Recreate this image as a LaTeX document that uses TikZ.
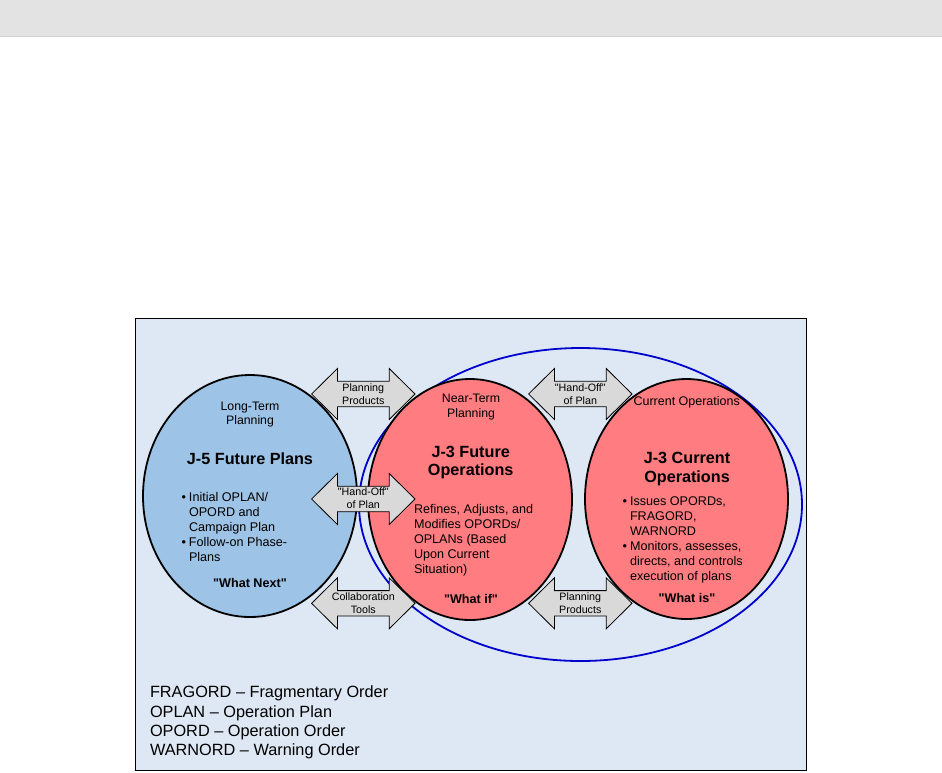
\documentclass[tikz,border=0pt]{standalone}
\usepackage{fontspec}
\newfontfamily\arialish{Liberation Sans}
\usetikzlibrary{shapes.geometric}
\definecolor{topbar}{HTML}{E3E3E3}
\definecolor{panelbg}{HTML}{DEE8F4}
\definecolor{jfiveblue}{HTML}{9DC3E6}
\definecolor{jthreered}{HTML}{FF7C80}
\definecolor{arrowgray}{HTML}{D9D9D9}
\definecolor{ringblue}{HTML}{0000CC}
\newcommand\fsz[2]{\arialish\fontsize{#1}{#2}\selectfont}
\newcommand\bul{\llap{•\hspace{3pt}}}
\begin{document}
\begin{tikzpicture}[x=1pt,y=-1pt,
  every node/.style={inner sep=0pt, outer sep=0pt},
  oval/.style={ellipse, draw=black, line width=1.8pt},
  arrowbox/.style={draw=black, line width=0.8pt, fill=arrowgray, line join=miter},
  arrowlabel/.style={font=\fsz{10.7}{13}, align=center, anchor=north},
  smalltitle/.style={font=\fsz{12.3}{14.3}, align=center, anchor=north},
  bigtitle/.style={font=\bfseries\fsz{16.2}{18.7}, align=center, anchor=north},
  bodytext/.style={font=\fsz{12.6}{15}, align=left, anchor=north west},
  motto/.style={font=\bfseries\fsz{12.6}{15}, anchor=north},
  legendtext/.style={font=\fsz{16.3}{19.3}, align=left, anchor=north west},
  dblarrow/.pic={\draw[arrowbox] (-51.7,0) -- (-25.9,-25.5) -- (-25.9,-12.7) -- (25.9,-12.7) -- (25.9,-25.5) -- (51.7,0) -- (25.9,25.5) -- (25.9,12.7) -- (-25.9,12.7) -- (-25.9,25.5) -- cycle;}
]
\useasboundingbox (0,0) rectangle (942,772);
\fill[white] (0,0) rectangle (942,772);
% top bar
\fill[topbar] (0,0) rectangle (942,36.5);
\draw[black!18, line width=0.5pt] (0,36.5) -- (942,36.5);
% panel
\draw[fill=panelbg, line width=0.8pt] (135.5,318) rectangle (806,770.5);
% big ring
\node[ellipse, draw=ringblue, line width=1.8pt, minimum width=443pt, minimum height=313pt] (ring) at (580.5,504.5) {};
% ellipses
\node[oval, fill=jfiveblue, minimum width=214pt, minimum height=242pt] (jfive) at (250,496) {};
\node[oval, fill=jthreered, minimum width=204pt, minimum height=241pt] (jfut) at (470,499.5) {};
\node[oval, fill=jthreered, minimum width=203pt, minimum height=240pt] (jcur) at (686.5,499) {};
% block arrows
\pic at (363.3,394) {dblarrow};
\pic at (580.3,394) {dblarrow};
\pic at (363.3,499) {dblarrow};
\pic at (363.3,603.3) {dblarrow};
\pic at (580.3,603.3) {dblarrow};
\node[arrowlabel] (lblpp) at (363.3,384) {Planning\\Products};
\node[arrowlabel] (lblhoa) at (580.3,384) {"Hand-Off"\\of Plan};
\node[arrowlabel] (lblhob) at (363.3,487.5) {"Hand-Off"\\of Plan};
\node[arrowlabel] (lblct) at (363.3,593) {Collaboration\\Tools};
\node[arrowlabel] (lblppb) at (580.3,593) {Planning\\Products};
% left ellipse text
\node[smalltitle] (ltp) at (250,402.1) {Long-Term\\Planning};
\node[bigtitle] (jfivet) at (250,452.3) {J-5 Future Plans};
\node[bodytext] (jfiveb) at (189,492.3) {\bul Initial OPLAN/\\OPORD and\\Campaign Plan\\\bul Follow-on Phase-\\Plans};
\node[motto] (wn) at (250,578) {"What Next"};
% middle ellipse text
\node[smalltitle] (ntp) at (471,394.5) {Near-Term\\Planning};
\node[bigtitle] (jfutt) at (470.7,445.7) {J-3 Future\\Operations};
\node[bodytext] (jfutb) at (414,504.1) {Refines, Adjusts, and\\Modifies OPORDs/\\OPLANs (Based\\Upon Current\\Situation)};
\node[motto] (wif) at (471,594.6) {"What if"};
% right ellipse text
\node[font=\fsz{12.5}{14.3}, anchor=north] (cop) at (686.7,396.4) {Current Operations};
\node[bigtitle] (jcurt) at (687,452.3) {J-3 Current\\Operations};
\node[bodytext] (jcurb) at (630,496.8) {\bul Issues OPORDs,\\FRAGORD,\\WARNORD\\\bul Monitors, assesses,\\directs, and controls\\execution of plans};
\node[motto] (wis) at (687,593.6) {"What is"};
% legend
\node[legendtext] (legend) at (150,686) {FRAGORD – Fragmentary Order\\OPLAN – Operation Plan\\OPORD – Operation Order\\WARNORD – Warning Order};
\end{tikzpicture}
\end{document}
